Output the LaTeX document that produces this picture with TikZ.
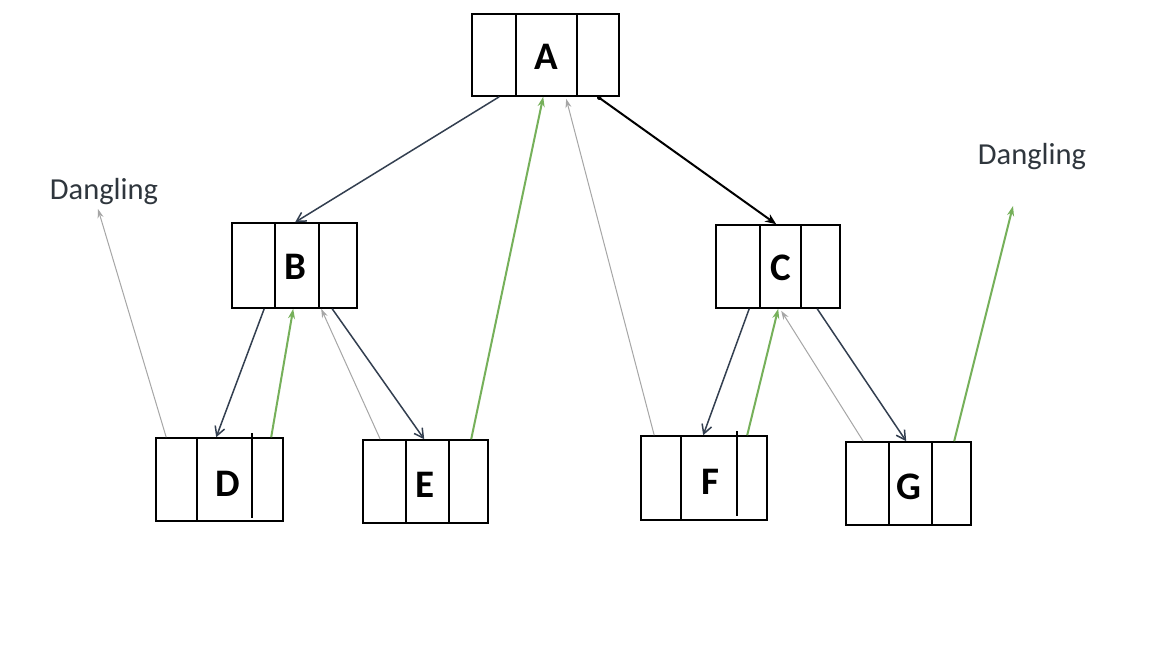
\documentclass[tikz,border=0pt]{standalone}
\usepackage{fontspec}
\setmainfont{Carlito}
\usetikzlibrary{arrows.meta}
\definecolor{slate}{HTML}{333F50}
\definecolor{gr}{HTML}{76B05A}
\definecolor{lg}{HTML}{A6A6A6}
\definecolor{txt}{HTML}{2F363D}
\tikzset{
  box/.style={draw=black, line width=1.6pt, inner sep=0pt, fill=none},
  lbl/.style={font=\fontsize{39}{41}\selectfont\bfseries, text=black, inner sep=0pt},
  dtext/.style={font=\fontsize{30.5}{33}\selectfont, text=txt, inner sep=0pt},
  dk/.style={draw=slate, line width=1.5pt, -{Straight Barb[length=9pt,width=10pt,line width=1.5pt]}},
  ak/.style={draw=black, line width=2pt, -{Stealth[length=11pt,width=9pt]}},
  gn/.style={draw=gr, line width=2pt, -{Stealth[length=10pt,width=7pt]}},
  gy/.style={draw=lg, line width=1pt, -{Stealth[length=9pt,width=6pt]}},
  dv/.style={draw=black, line width=1.6pt}
}
\begin{document}
\begin{tikzpicture}[x=1pt,y=-1pt]
\useasboundingbox[fill=white] (0,0) rectangle (1160,668);
% boxes
\node[box, minimum width=147pt, minimum height=82pt] (A) at (545.5,55) {};
\node[box, minimum width=125pt, minimum height=85pt] (B) at (294.5,265.5) {};
\node[box, minimum width=124pt, minimum height=83pt] (C) at (778,266.5) {};
\node[box, minimum width=127pt, minimum height=83pt] (D) at (219.5,479.5) {};
\node[box, minimum width=125pt, minimum height=83pt] (E) at (425.5,481.5) {};
\node[box, minimum width=126pt, minimum height=84pt] (F) at (704,478) {};
\node[box, minimum width=125pt, minimum height=83pt] (G) at (908.5,483.5) {};
% dividers
\foreach \n/\a/\b in {A/45/106, B/44/88, C/45/86, E/44/87, G/44/87}{
  \draw[dv] ([xshift=\a pt]\n.north west) -- ([xshift=\a pt]\n.south west);
  \draw[dv] ([xshift=\b pt]\n.north west) -- ([xshift=\b pt]\n.south west);
}
\draw[dv] ([xshift=42pt]D.north west) -- ([xshift=42pt]D.south west);
\draw[dv] ([xshift=97pt,yshift=4pt]D.north west) -- ([xshift=97pt,yshift=4pt]D.south west);
\draw[dv] ([xshift=41pt]F.north west) -- ([xshift=41pt]F.south west);
\draw[dv] ([xshift=97pt,yshift=4pt]F.north west) -- ([xshift=97pt,yshift=5pt]F.south west);
% letters
\node[lbl] (la) at (546,57) {A};
\node[lbl] (lb) at (295,267) {B};
\node[lbl] (lc) at (781,268) {C};
\node[lbl] (ld) at (228,484) {D};
\node[lbl] (le) at (425,485) {E};
\node[lbl] (lf) at (710,482) {F};
\node[lbl] (lg) at (909,487) {G};
% dangling labels
\node[dtext] (dl) at (104,192) {Dangling};
\node[dtext] (dr) at (1032,157) {Dangling};
\coordinate (dlp) at (98,209);
\coordinate (drp) at (1013,206);
% connectors
\draw[dk] ([xshift=28pt]A.south west) -- ([xshift=64pt]B.north west);
\draw[ak] ([xshift=128pt,yshift=-1pt]A.south west) -- ([xshift=61pt]C.north west);
\fill ([xshift=128pt,yshift=-1pt]A.south west) circle (2.2pt);
\draw[dk] ([xshift=33pt]B.south west) -- ([xshift=61pt]D.north west);
\draw[gn] ([xshift=116pt]D.north west) -- ([xshift=62pt]B.south west);
\draw[dk] ([xshift=101pt]B.south west) -- ([xshift=62pt]E.north west);
\draw[gy] ([xshift=18pt]E.north west) -- ([xshift=90pt]B.south west);
\draw[gn] ([xshift=109pt]E.north west) -- ([xshift=72pt]A.south west);
\draw[gy] ([xshift=14pt]F.north west) -- ([xshift=95pt,yshift=-2pt]A.south west);
\draw[dk] ([xshift=34pt]C.south west) -- ([xshift=63pt]F.north west);
\draw[gn] ([xshift=107pt]F.north west) -- ([xshift=63pt]C.south west);
\draw[dk] ([xshift=102pt]C.south west) -- ([xshift=61pt]G.north west);
\draw[gy] ([xshift=18pt]G.north west) -- ([xshift=66pt,yshift=-2pt]C.south west);
\draw[gn] ([xshift=109pt]G.north west) -- (drp);
\draw[gy] ([xshift=11pt]D.north west) -- (dlp);
\end{tikzpicture}
\end{document}
